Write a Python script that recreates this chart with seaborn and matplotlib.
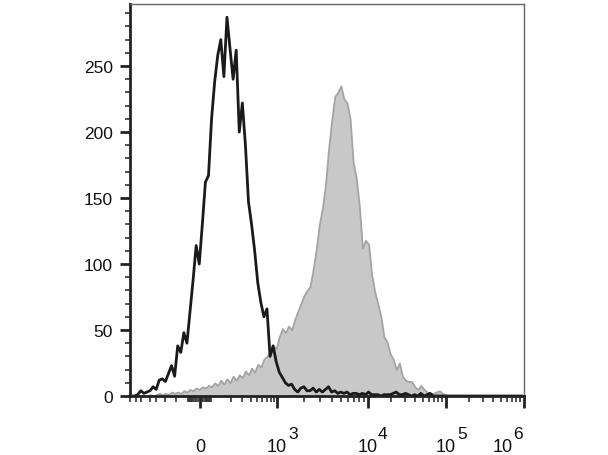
import numpy as np
import matplotlib
matplotlib.use("Agg")
import matplotlib.pyplot as plt
from matplotlib.transforms import ScaledTranslation
import seaborn as sns

# histogram counts per channel bin (128 bins over 1024 channels)
channel = np.arange(4, 1024, 8)

isotype = [0, 0, 1, 4, 2, 3, 4, 7, 5, 12,
           13, 11, 17, 23, 15, 38, 33, 48, 40, 64,
           88, 114, 100, 130, 162, 167, 210, 238, 258, 270,
           242, 287, 263, 240, 262, 200, 222, 190, 147, 130,
           110, 86, 71, 60, 66, 30, 38, 26, 18, 14,
           10, 8, 9, 5, 3, 6, 7, 4, 4, 6,
           3, 5, 3, 5, 7, 3, 4, 2, 3, 2,
           3, 1, 2, 2, 1, 2, 1, 3, 1, 1,
           1, 0, 1, 1, 1, 2, 3, 1, 1, 2,
           1, 0, 1, 0, 2, 0, 1, 2, 0, 0,
           0, 0, 0, 0, 0, 0, 0, 0, 0, 0,
           0, 0, 0, 0, 0, 0, 0, 0, 0, 0,
           0, 0, 0, 0, 0, 0, 0, 0]

stained = [0, 0, 0, 0, 0, 0, 1, 0, 1, 2,
           1, 2, 1, 3, 2, 3, 2, 4, 3, 5,
           4, 6, 5, 7, 6, 8, 7, 10, 8, 12,
           9, 13, 10, 15, 12, 16, 14, 19, 16, 21,
           18, 24, 22, 28, 30, 34, 38, 36, 45, 51,
           48, 53, 50, 58, 64, 70, 76, 80, 83, 96,
           111, 130, 142, 160, 187, 208, 227, 230, 235, 225,
           222, 210, 177, 165, 144, 112, 118, 115, 92, 79,
           70, 60, 45, 41, 32, 28, 20, 25, 15, 12,
           11, 11, 7, 5, 8, 5, 3, 2, 2, 3,
           4, 2, 1, 0, 0, 0, 0, 0, 0, 0,
           0, 0, 0, 0, 0, 0, 0, 0, 0, 0,
           0, 0, 0, 0, 0, 0, 0, 0]

major_values = [0, 1e3, 1e4, 1e5, 1e6]
major_labels = ["0", "10", "10", "10", "10"]
exponents = ["3", "4", "5", "6"]
minor_values = ([-5000, -3000, -2000, -1000, -700, -400, -200]
                + list(range(-90, 0, 10)) + list(range(10, 100, 10))
                + list(range(200, 1000, 100)) + list(range(2000, 10000, 1000))
                + list(range(20000, 100000, 10000)) + list(range(200000, 1000000, 100000)))


def to_channel(v):
    # logicle-like display transform of the cytometer axis
    av = np.array([-5000, -1000, -100, 0, 100, 1e3, 1e4, 1e5, 1e6])
    ap = np.array([0, 20, 57, 70, 82, 147, 238, 316, 394]) * 1024 / 394
    return np.interp(np.arcsinh(np.asarray(v, float) / 50), np.arcsinh(av / 50), ap)


sns.set_style("ticks")
plt.rcParams["font.family"] = ["Liberation Sans", "DejaVu Sans"]

fig = plt.figure(figsize=(6.08, 4.56), dpi=100)
ax = fig.add_axes([130 / 608, 59 / 456, 394 / 608, 392 / 456])

sns.histplot(x=channel, weights=stained, bins=128, binrange=(0, 1024),
             element="poly", fill=True, color="#c8c8c8", alpha=1,
             edgecolor="#a4a4a4", linewidth=1.3, ax=ax)
sns.histplot(x=channel, weights=isotype, bins=128, binrange=(0, 1024),
             element="poly", fill=False, color="#1a1a1a", linewidth=2.0, ax=ax)

ax.set_xlim(0, 1024)
ax.set_ylim(0, 297)
ax.set_xlabel("")
ax.set_ylabel("")

ax.set_yticks(range(0, 251, 50))
ax.set_yticks(range(0, 297, 10), minor=True)
ax.set_xticks(to_channel(major_values))
ax.set_xticklabels(major_labels)
ax.set_xticks(to_channel(minor_values), minor=True)

ax.tick_params(axis="y", which="major", length=7.5, width=2, labelsize=12.5, pad=5,
               color="#222222", labelcolor="#111111")
ax.tick_params(axis="y", which="minor", length=3.5, width=1.2, color="#333333")
ax.tick_params(axis="x", which="major", length=8.5, width=2, labelsize=13, pad=22,
               color="#222222", labelcolor="#111111")
ax.tick_params(axis="x", which="minor", length=4, width=1.2, color="#333333")

# last decade label sits left of its tick so it stays inside the frame
last = ax.get_xticklabels()[-1]
last.set_horizontalalignment("right")
last.set_transform(last.get_transform() + ScaledTranslation(-0.11, 0, fig.dpi_scale_trans))

# full-size exponents, as in the cytometer software
for value, exp, dx in zip(major_values[1:], exponents, [11, 10, 11, -11]):
    ax.annotate(exp, xy=(to_channel(value), 0), xycoords=ax.get_xaxis_transform(),
                xytext=(dx, -30), textcoords="offset pixels", ha="left", va="top",
                fontsize=12.5, color="#111111", annotation_clip=False)

for side in ["left", "bottom"]:
    ax.spines[side].set_linewidth(2)
    ax.spines[side].set_color("#222222")
for side in ["top", "right"]:
    ax.spines[side].set_visible(True)
    ax.spines[side].set_linewidth(1)
    ax.spines[side].set_color("#666666")

fig.savefig("out.png", dpi=100)
